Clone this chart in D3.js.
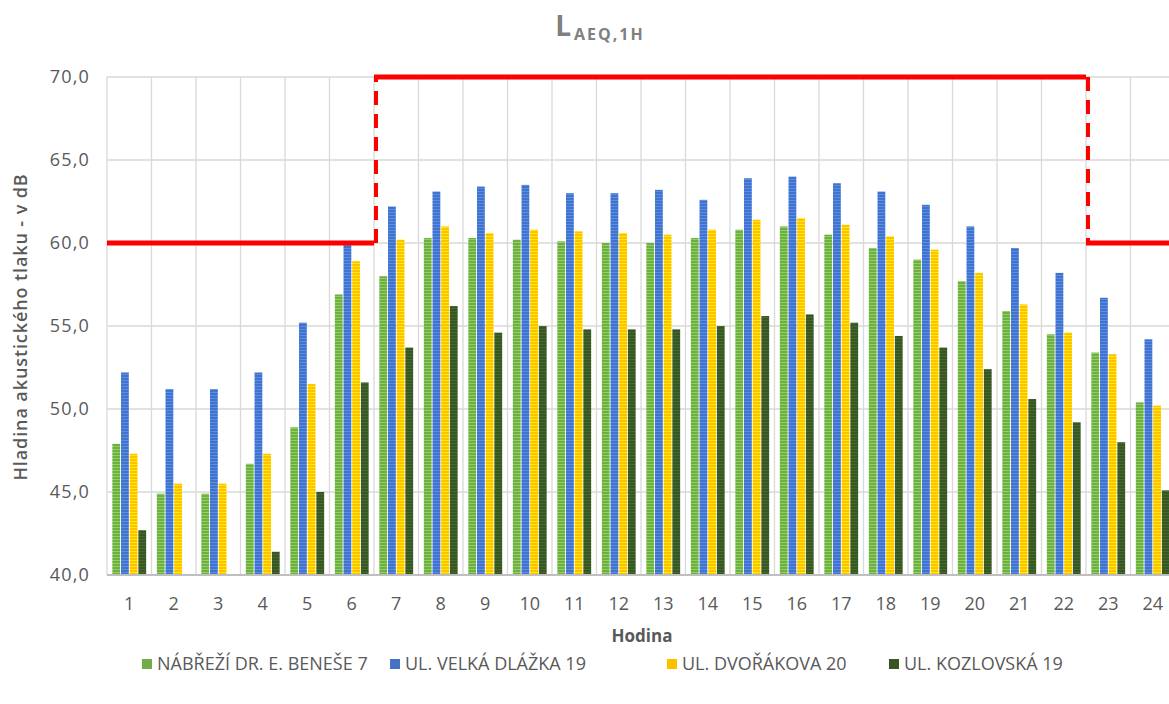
<!DOCTYPE html>
<html><head><meta charset="utf-8"><script src="https://cdn.jsdelivr.net/npm/d3@7"></script>
<style>body{margin:0;background:#fff}</style></head><body><div id="c"></div>
<script>
const hours = d3.range(1, 25).map(String);
const series = ["NÁBŘEŽÍ DR. E. BENEŠE 7", "UL. VELKÁ DLÁŽKA 19", "UL. DVOŘÁKOVA 20", "UL. KOZLOVSKÁ 19"];
const nabrezi = [47.9,44.9,44.9,46.7,48.9,56.9,58.0,60.3,60.3,60.2,60.1,60.0,60.0,60.3,60.8,61.0,60.5,59.7,59.0,57.7,55.9,54.5,53.4,50.4];
const velkaDlazka = [52.2,51.2,51.2,52.2,55.2,59.9,62.2,63.1,63.4,63.5,63.0,63.0,63.2,62.6,63.9,64.0,63.6,63.1,62.3,61.0,59.7,58.2,56.7,54.2];
const dvorakova = [47.3,45.5,45.5,47.3,51.5,58.9,60.2,61.0,60.6,60.8,60.7,60.6,60.5,60.8,61.4,61.5,61.1,60.4,59.6,58.2,56.3,54.6,53.3,50.2];
const kozlovska = [42.7,null,null,41.4,45.0,51.6,53.7,56.2,54.6,55.0,54.8,54.8,54.8,55.0,55.6,55.7,55.2,54.4,53.7,52.4,50.6,49.2,48.0,45.1];
const limit = [60,60,60,60,60,60,70,70,70,70,70,70,70,70,70,70,70,70,70,70,70,70,60,60];
const yTicks = [40,45,50,55,60,65,70];
const colors = ["#70ad47","#4472c4","#ffc000","#375623"];

const W = 1169, H = 704;
const m = {left:107, top:77, right:-6, bottom:129};
const svg = d3.select("#c").append("svg").attr("width",W).attr("height",H)
  .style("font-family","'Open Sans', sans-serif");
const x = d3.scaleBand().domain(hours).range([m.left, W - m.right]).paddingInner(0.24).paddingOuter(0.12);
const band = d3.scaleBand().domain(hours).range([m.left, W - m.right]);
const x1 = d3.scaleBand().domain(d3.range(4)).range([0, x.bandwidth()]).paddingInner(0.1);
const y = d3.scaleLinear().domain([40,70]).range([H - m.bottom, m.top]);

// striped patterns
const defs = svg.append("defs");
colors.forEach((c,i)=>{
  const p = defs.append("pattern").attr("id","p"+i).attr("patternUnits","userSpaceOnUse").attr("width",4).attr("height",3);
  p.append("rect").attr("width",4).attr("height",3).attr("fill",c);
  p.append("rect").attr("y",2).attr("width",4).attr("height",1).attr("fill",d3.color(c).brighter(0.6));
});

// grid
svg.append("g").selectAll("line").data(yTicks.slice(1)).join("line")
  .attr("x1",m.left).attr("x2",W).attr("y1",d=>y(d)).attr("y2",d=>y(d))
  .attr("stroke","#d9d9d9").attr("stroke-width",1.3);
svg.append("g").selectAll("line").data(d3.range(25)).join("line")
  .attr("x1",d=>m.left + d*band.step()).attr("x2",d=>m.left + d*band.step())
  .attr("y1",y(70)).attr("y2",y(40)).attr("stroke","#d9d9d9").attr("stroke-width",1.3);

// bars
const all = [nabrezi, velkaDlazka, dvorakova, kozlovska];
all.forEach((vals,si)=>{
  svg.append("g").selectAll("rect").data(vals.map((v,i)=>({h:hours[i],v}))
    .filter(d=>d.v!=null)).join("rect")
    .attr("x",d=>x(d.h)+x1(si)).attr("width",x1.bandwidth())
    .attr("y",d=>y(d.v)).attr("height",d=>y(40)-y(d.v))
    .attr("fill","url(#p"+si+")");
});

// baseline
svg.append("line").attr("x1",m.left).attr("x2",W).attr("y1",y(40)).attr("y2",y(40))
  .attr("stroke","#bfbfbf").attr("stroke-width",2);

// limit line
const lim = svg.append("g").attr("stroke","#ff0000").attr("stroke-width",5).attr("fill","none");
let start = 0;
for (let i = 1; i <= limit.length; i++) {
  if (i === limit.length || limit[i] !== limit[start]) {
    lim.append("line").attr("x1",band(hours[start])).attr("x2",i===limit.length? W : band(hours[i-1])+band.step())
      .attr("y1",y(limit[start])).attr("y2",y(limit[start]));
    if (i < limit.length) {
      const xx = band(hours[i]) + 2;
      lim.append("line").attr("x1",xx).attr("x2",xx)
        .attr("y1",y(limit[i-1])).attr("y2",y(limit[i])).attr("stroke-dasharray","14,9").attr("stroke-width",4);
    }
    start = i;
  }
}

// axes text
svg.append("g").selectAll("text").data(yTicks).join("text")
  .attr("x",90).attr("y",d=>y(d)).attr("dy","0.35em").attr("text-anchor","end")
  .attr("fill","#595959").attr("font-size",18).attr("letter-spacing",1.2).text(d=>d.toFixed(1).replace(".",","));
svg.append("g").selectAll("text").data(hours).join("text")
  .attr("x",d=>band(d)+band.step()/2).attr("y",y(40)+35).attr("text-anchor","middle")
  .attr("fill","#595959").attr("font-size",18).text(d=>d);
svg.append("text").attr("x",642).attr("y",642).attr("text-anchor","middle")
  .attr("fill","#595959").attr("font-size",17).attr("font-weight","bold").text("Hodina");
svg.append("text").attr("transform","translate(27,327) rotate(-90)").attr("text-anchor","middle")
  .attr("fill","#595959").attr("font-size",18).attr("font-weight",600).attr("letter-spacing",0.9)
  .text("Hladina akustického tlaku - v dB");

// title
const t = svg.append("text").attr("x",600).attr("y",36).attr("text-anchor","middle").attr("fill","#808080").attr("font-weight","bold");
t.append("tspan").attr("font-size",28).text("L");
t.append("tspan").attr("font-size",16).attr("dy",4).attr("dx",3).attr("letter-spacing",2).text("AEQ,1H");

// legend
const lx = [142, 390, 667, 889];
const lg = svg.append("g").selectAll("g").data(series).join("g")
  .attr("transform",(d,i)=>`translate(${lx[i]},664)`);
lg.append("rect").attr("y",-5).attr("width",10).attr("height",10).attr("fill",(d,i)=>colors[i]);
lg.append("text").attr("x",15).attr("dy","0.35em").attr("fill","#595959").attr("font-size",18).text(d=>d);
</script></body></html>
